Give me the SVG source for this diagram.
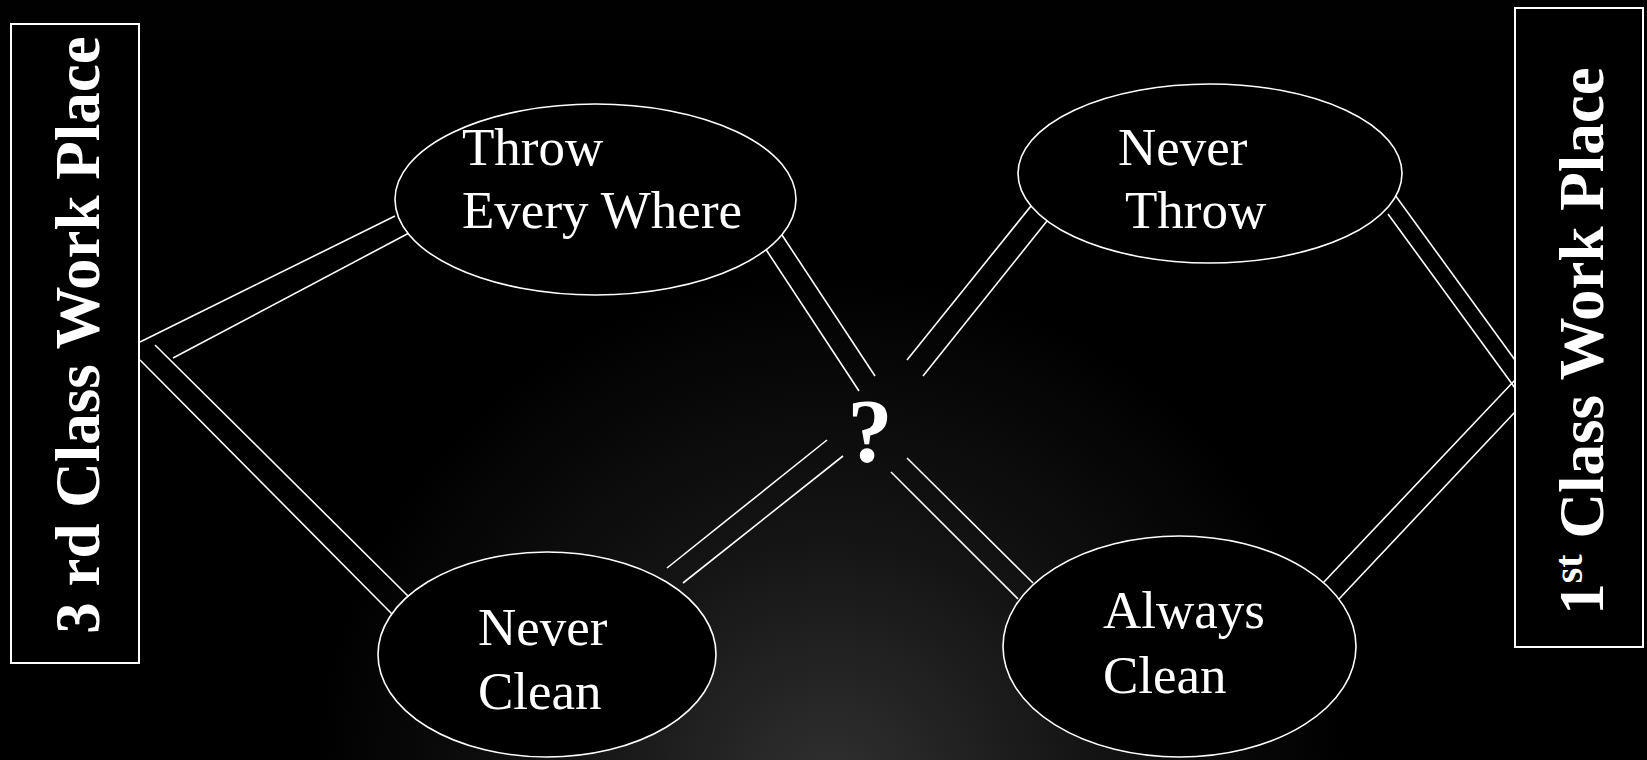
<svg xmlns="http://www.w3.org/2000/svg" width="1647" height="760" viewBox="0 0 1647 760">
<defs>
<radialGradient id="bg" cx="830" cy="790" r="520" gradientUnits="userSpaceOnUse">
<stop offset="0" stop-color="#363636"/>
<stop offset="0.5" stop-color="#161616"/>
<stop offset="1" stop-color="#000000"/>
</radialGradient>
<linearGradient id="topg" x1="0" y1="0" x2="0" y2="1">
<stop offset="0" stop-color="#0e0e0e"/>
<stop offset="0.08" stop-color="#000000"/>
<stop offset="1" stop-color="#000000"/>
</linearGradient>
<style>
.box{fill:#000;stroke:#fff;stroke-width:2}
.ell{fill:#000;stroke:#fff;stroke-width:1.6}
.lbl{font-family:"Liberation Serif","Times New Roman",serif;font-size:53px;fill:#fff}
.side{font-family:"Liberation Serif","Times New Roman",serif;font-size:63px;font-weight:bold;fill:#fff}
.q{font-family:"Liberation Serif","Times New Roman",serif;font-size:90px;font-weight:bold;fill:#fff}
#connectors line{stroke:#fff;stroke-width:1.6}
</style>
</defs>
<rect width="1647" height="760" fill="url(#topg)"/>
<rect width="1647" height="760" fill="url(#bg)" opacity="0.9"/>

<g id="connectors">
<line x1="140" y1="342" x2="395" y2="216"/>
<line x1="173" y1="358" x2="409" y2="233"/>
<line x1="155" y1="345" x2="411" y2="599"/>
<line x1="140" y1="360" x2="394" y2="616"/>
<line x1="765" y1="248" x2="859" y2="391"/>
<line x1="780" y1="232" x2="875" y2="376"/>
<line x1="907" y1="360" x2="1035" y2="201"/>
<line x1="923" y1="376" x2="1051" y2="216"/>
<line x1="827" y1="440" x2="667" y2="568"/>
<line x1="843" y1="456" x2="683" y2="583"/>
<line x1="907" y1="458" x2="1033" y2="583"/>
<line x1="891" y1="472" x2="1018" y2="599"/>
<line x1="1387" y1="184" x2="1515" y2="360"/>
<line x1="1388" y1="214" x2="1515" y2="388"/>
<line x1="1323" y1="583" x2="1515" y2="380"/>
<line x1="1339" y1="599" x2="1515" y2="412"/>
</g>

<g id="third-class">
<rect class="box" x="11" y="24" width="128" height="639"/>
<text class="side" transform="translate(99,335) rotate(-90)" text-anchor="middle">3 rd Class Work Place</text>
</g>

<g id="first-class">
<rect class="box" x="1515" y="8" width="128" height="639"/>
<text class="side" transform="translate(1603,341) rotate(-90)" text-anchor="middle">1<tspan font-size="40" dy="-21">st</tspan><tspan dy="21"> Class Work Place</tspan></text>
</g>

<g id="throw-every-where">
<ellipse class="ell" cx="595.5" cy="199.5" rx="200.5" ry="95.5"/>
<text class="lbl" x="462" y="165">Throw</text>
<text class="lbl" x="462" y="228">Every Where</text>
</g>

<g id="never-throw">
<ellipse class="ell" cx="1210" cy="173.5" rx="192" ry="89.5"/>
<text class="lbl" x="1118" y="165">Never</text>
<text class="lbl" x="1125" y="228">Throw</text>
</g>

<g id="never-clean">
<ellipse class="ell" cx="547" cy="654.5" rx="169" ry="102.5"/>
<text class="lbl" x="478" y="645">Never</text>
<text class="lbl" x="478" y="709">Clean</text>
</g>

<g id="always-clean">
<ellipse class="ell" cx="1179.5" cy="646.5" rx="176.5" ry="110.5"/>
<text class="lbl" x="1103" y="628">Always</text>
<text class="lbl" x="1103" y="693">Clean</text>
</g>

<g id="question">
<text class="q" x="870" y="462" text-anchor="middle">?</text>
</g>
</svg>
